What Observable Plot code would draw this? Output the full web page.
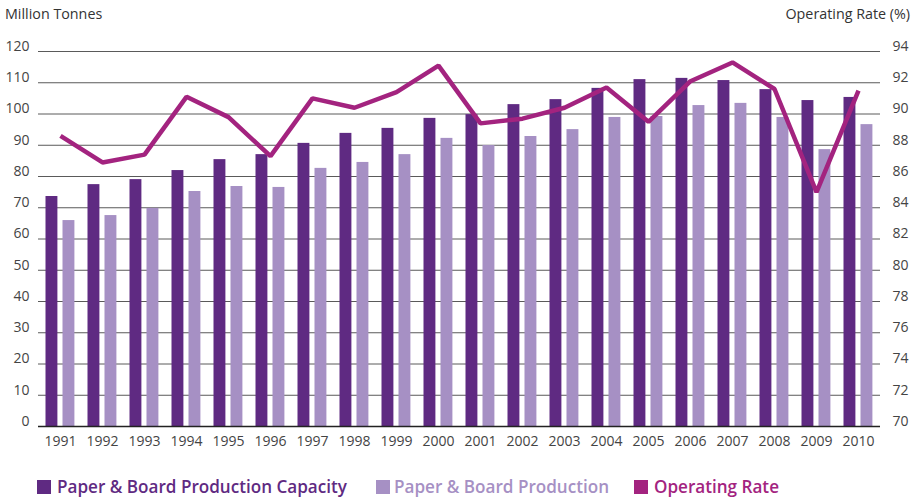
<!DOCTYPE html>
<html><head><meta charset="utf-8">
<script src="https://cdn.jsdelivr.net/npm/d3@7"></script>
<script src="https://cdn.jsdelivr.net/npm/@observablehq/plot@0.6"></script>
<style>
body{margin:0;background:#fff;font-family:"Open Sans",Lato,sans-serif;}
#wrap{position:relative;width:920px;height:498px;overflow:hidden;}
#chart{position:absolute;left:0;top:0;}
.lab{position:absolute;top:4px;font-size:14.3px;color:#333;white-space:nowrap;}
.leg{position:absolute;top:477px;font-size:17.1px;font-weight:600;white-space:nowrap;line-height:20px;}
.sw{position:absolute;top:480px;width:14px;height:14px;}
</style>
</head><body>
<div id="wrap">
  <div id="chart"></div>
  <div class="lab" style="left:5px">Million Tonnes</div>
  <div class="lab" style="right:10px">Operating Rate (%)</div>
  <div id="legend"></div>
</div>
<script>
const years = ["1991","1992","1993","1994","1995","1996","1997","1998","1999","2000","2001","2002","2003","2004","2005","2006","2007","2008","2009","2010"];
const capacity = [73.6,77.4,79.0,81.9,85.4,87.0,90.6,93.8,95.4,98.6,99.8,103.0,104.6,108.2,111.0,111.4,110.7,107.8,104.3,105.3];
const production = [65.9,67.5,69.8,75.2,76.8,76.5,82.6,84.5,87.0,92.2,89.9,92.8,95.0,98.9,99.2,102.7,103.4,98.9,88.6,96.6];
const operatingRate = [88.6,86.9,87.4,91.1,89.8,87.3,91.0,90.4,91.4,93.1,89.4,89.7,90.4,91.7,89.5,92.1,93.3,91.6,85.0,91.5];
const leftTicks = [0,10,20,30,40,50,60,70,80,90,100,110,120];
const rateTicks = [70,72,74,76,78,80,82,84,86,88,90,92,94];
const seriesNames = ["Paper & Board Production Capacity","Paper & Board Production","Operating Rate"];
const colors = ["#5f2a82","#a690c4","#a3237f"];

// right axis maps rate 70..94 onto left 0..120
const rateToLeft = r => (r - rateTicks[0]) * (leftTicks[leftTicks.length-1] / (rateTicks[rateTicks.length-1] - rateTicks[0]));

const capData = years.map((y,i)=>({year:y, value:capacity[i]}));
const prodData = years.map((y,i)=>({year:y, value:production[i]}));
const rateData = years.map((y,i)=>({year:y, rate:operatingRate[i], v:rateToLeft(operatingRate[i])}));

const W = 920, H = 460, ML = 38, MR = 40;
const step = (W - ML - MR) / years.length;

const chart = Plot.plot({
  width: W, height: H,
  marginLeft: ML, marginRight: MR, marginTop: 51, marginBottom: 34,
  style: {fontFamily: "'Open Sans', Lato, sans-serif", fontSize: "14px", color: "#444", background: "#fff"},
  x: {type: "band", domain: years, paddingInner: 0, paddingOuter: 0, label: null},
  y: {domain: [0, 120], label: null},
  marks: [
    Plot.ruleY(leftTicks.filter(d => d > 0), {stroke: "#5a5a5a", strokeWidth: 1}),
    Plot.barY(capData, {x: "year", y: "value", fill: colors[0], insetLeft: 6.5, insetRight: step - 18.5}),
    Plot.barY(prodData, {x: "year", y: "value", fill: colors[1], insetLeft: 23.5, insetRight: step - 35.5}),
    Plot.ruleY([0], {stroke: "#222", strokeWidth: 1.5}),
    Plot.line(rateData, {x: "year", y: "v", stroke: colors[2], strokeWidth: 4.5, strokeLinejoin: "miter", strokeLinecap: "butt"}),
    Plot.axisY({anchor: "left", ticks: leftTicks, tickSize: 0, tickPadding: 9, dy: -5, label: null, fill: "#444"}),
    Plot.axisY({anchor: "right", ticks: leftTicks, tickFormat: (d, i) => String(rateTicks[i]), tickSize: 0, tickPadding: 12, dy: -5, label: null, fill: "#444"}),
    Plot.axisX({ticks: years, tickSize: 0, tickPadding: 10, label: null, fill: "#444"})
  ]
});
document.getElementById("chart").appendChild(chart);

const legendPos = [[37,57],[376,394],[634,654]];
const wrap = document.getElementById("wrap");
seriesNames.forEach((name, i) => {
  const sw = document.createElement("div");
  sw.className = "sw"; sw.style.left = legendPos[i][0] + "px"; sw.style.background = colors[i];
  wrap.appendChild(sw);
  const t = document.createElement("div");
  t.className = "leg"; t.style.left = legendPos[i][1] + "px"; t.style.color = colors[i];
  t.textContent = name;
  wrap.appendChild(t);
});
</script>
</body></html>
